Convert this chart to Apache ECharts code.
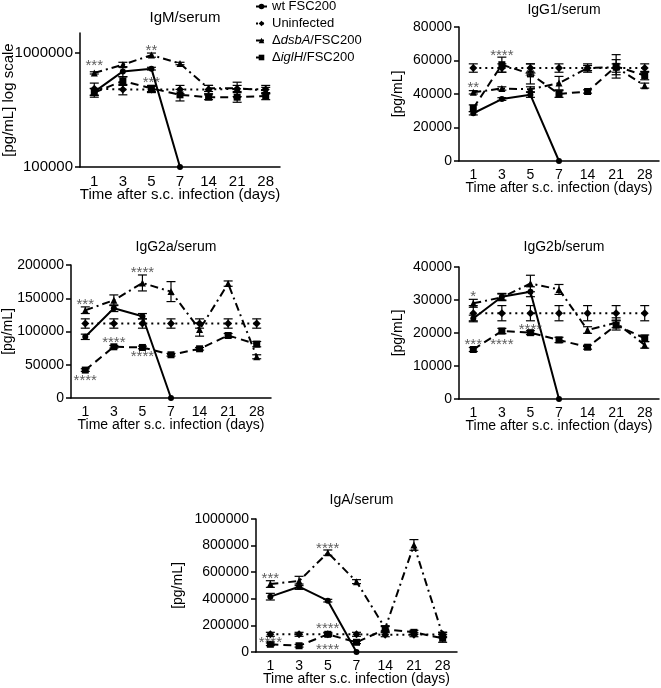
<!DOCTYPE html>
<html>
<head>
<meta charset="utf-8">
<script src="https://cdn.jsdelivr.net/npm/echarts@6/dist/echarts.min.js"></script>
<style>
  html, body { margin: 0; padding: 0; background: #fff; }
  #chart { width: 661px; height: 688px; }
</style>
</head>
<body>
<div id="chart"></div>
<script>
// categories + legend names
const days = ['1', '3', '5', '7', '14', '21', '28']
const seriesNames = ['wt FSC200', 'Uninfected', 'ΔdsbA/FSC200', 'ΔiglH/FSC200']

// IgM/serum (log scale)
const igmTicks = [100000, 1000000]
const igmWt = [457000, 690000, 730000, 100000]
const igmWtErr = [30000, 70000, 20000, 0]
const igmUninf = [485000, 480000, 480000, 480000, 480000, 485000, 480000]
const igmUninfErr = [60000, 50000, 30000, 40000, 40000, 70000, 40000]
const igmDsbA = [670000, 790000, 960000, 810000, 490000, 490000, 470000]
const igmDsbAErr = [15000, 40000, 40000, 20000, 30000, 30000, 30000]
const igmIglH = [450000, 570000, 490000, 430000, 410000, 410000, 420000]
const igmIglHErr = [40000, 50000, 30000, 50000, 20000, 40000, 30000]
const igmStars = [[0, 817000, '***'], [2, 1107000, '**'], [1.7, 579000, '***']]

// IgG1/serum
const igg1Ticks = [0, 20000, 40000, 60000, 80000]
const igg1Wt = [28500, 37000, 39500, 0]
const igg1WtErr = [1000, 800, 1500, 0]
const igg1Uninf = [55500, 55500, 55500, 55500, 55500, 55500, 55500]
const igg1UninfErr = [2500, 2500, 2500, 2500, 2500, 2500, 2500]
const igg1DsbA = [41000, 43300, 42800, 46500, 55500, 56000, 45000]
const igg1DsbAErr = [1000, 1000, 1500, 4000, 1500, 4500, 1500]
const igg1IglH = [31500, 57500, 52000, 40000, 41500, 56500, 51000]
const igg1IglHErr = [2000, 4500, 6000, 2000, 1000, 7000, 2500]
const igg1Stars = [[0, 45400, '**'], [1, 64700, '****'], [2.45, 52000, '**']]

// IgG2a/serum
const igg2aTicks = [0, 50000, 100000, 150000, 200000]
const igg2aWt = [92000, 135000, 123000, 0]
const igg2aWtErr = [4000, 5000, 4000, 0]
const igg2aUninf = [112000, 112000, 112000, 112000, 112000, 112000, 112000]
const igg2aUninfErr = [7000, 7000, 7000, 7000, 7000, 7000, 7000]
const igg2aDsbA = [132000, 147000, 173000, 160000, 103000, 172000, 62000]
const igg2aDsbAErr = [5000, 8000, 12000, 15000, 10000, 4000, 3000]
const igg2aIglH = [42000, 77000, 76000, 65000, 74000, 94000, 81000]
const igg2aIglHErr = [2000, 2000, 2000, 2000, 2000, 3000, 4000]
const igg2aStars = [[0, 145000, '***'], [2, 192500, '****'], [1, 87000, '****'], [2, 65700, '****'], [0, 29600, '****']]

// IgG2b/serum
const igg2bTicks = [0, 10000, 20000, 30000, 40000]
const igg2bWt = [24400, 31000, 32500, 0]
const igg2bWtErr = [1000, 1000, 1500, 0]
const igg2bUninf = [26000, 26000, 26000, 26000, 26000, 26000, 26000]
const igg2bUninfErr = [2300, 2300, 2300, 2300, 2300, 2300, 2300]
const igg2bDsbA = [29000, 30800, 35000, 33200, 20900, 23100, 16400]
const igg2bDsbAErr = [1200, 1000, 2500, 1500, 1000, 1500, 1000]
const igg2bIglH = [15000, 20600, 20100, 17900, 15700, 22400, 18400]
const igg2bIglHErr = [600, 800, 600, 800, 600, 1500, 1000]
const igg2bStars = [[0, 32000, '*'], [-0.07, 17400, '***'], [1.1, 17400, '****'], [1.8, 21900, '****']]

// IgA/serum
const igaTicks = [0, 200000, 400000, 600000, 800000, 1000000]
const igaWt = [416000, 491000, 386000, 0]
const igaWtErr = [25000, 20000, 10000, 0]
const igaUninf = [133000, 133000, 133000, 133000, 130000, 130000, 133000]
const igaUninfErr = [15000, 15000, 15000, 15000, 15000, 15000, 15000]
const igaDsbA = [511000, 534000, 747000, 529000, 178000, 805000, 128000]
const igaDsbAErr = [25000, 35000, 20000, 15000, 20000, 40000, 20000]
const igaIglH = [58000, 47000, 133000, 73000, 171000, 148000, 103000]
const igaIglHErr = [10000, 10000, 10000, 10000, 20000, 15000, 30000]
const igaStars = [[0, 571000, '***'], [2, 797000, '****'], [2, 195000, '****'], [0, 95000, '****'], [1.64, 40000, '****']]

const FONT = "'Liberation Sans', Arial, sans-serif"

// line styles for the four groups
const looks = [
  { symbol: 'circle', size: 6, dash: 'solid' },
  { symbol: 'diamond', size: 8, dash: [2, 4] },
  { symbol: 'triangle', size: 7, dash: [8, 4, 2, 4] },
  { symbol: 'rect', size: 7, dash: [8, 5] }
]

const panels = [
  { title: 'IgM/serum', grid: { left: 80, top: 33, width: 200, height: 134 }, titleTop: 5, yName: '[pg/mL] log scale', nameGap: 64, log: true, ticks: igmTicks, max: 1500000,
    vals: [igmWt, igmUninf, igmDsbA, igmIglH], errs: [igmWtErr, igmUninfErr, igmDsbAErr, igmIglHErr], stars: igmStars, fs: 15 },
  { title: 'IgG1/serum', grid: { left: 459, top: 27, width: 200, height: 134 }, titleTop: -2, yName: '[pg/mL]', nameGap: 54, ticks: igg1Ticks,
    vals: [igg1Wt, igg1Uninf, igg1DsbA, igg1IglH], errs: [igg1WtErr, igg1UninfErr, igg1DsbAErr, igg1IglHErr], stars: igg1Stars, fs: 14 },
  { title: 'IgG2a/serum', grid: { left: 71, top: 265, width: 200, height: 133 }, titleTop: 235, yName: '[pg/mL]', nameGap: 56, ticks: igg2aTicks,
    vals: [igg2aWt, igg2aUninf, igg2aDsbA, igg2aIglH], errs: [igg2aWtErr, igg2aUninfErr, igg2aDsbAErr, igg2aIglHErr], stars: igg2aStars, fs: 14 },
  { title: 'IgG2b/serum', grid: { left: 459, top: 267, width: 200, height: 132 }, titleTop: 235, yName: '[pg/mL]', nameGap: 54, ticks: igg2bTicks,
    vals: [igg2bWt, igg2bUninf, igg2bDsbA, igg2bIglH], errs: [igg2bWtErr, igg2bUninfErr, igg2bDsbAErr, igg2bIglHErr], stars: igg2bStars, fs: 14 },
  { title: 'IgA/serum', grid: { left: 256, top: 519, width: 201, height: 133 }, titleTop: 488, yName: '[pg/mL]', nameGap: 71, ticks: igaTicks,
    vals: [igaWt, igaUninf, igaDsbA, igaIglH], errs: [igaWtErr, igaUninfErr, igaDsbAErr, igaIglHErr], stars: igaStars, fs: 14 }
]

function renderErr (params, api) {
  const x = api.value(0)
  const top = api.coord([x, api.value(2)])
  const bot = api.coord([x, api.value(1)])
  const w = 4.5
  const style = { stroke: '#000', lineWidth: 1.2 }
  return {
    type: 'group',
    children: [
      { type: 'line', shape: { x1: top[0], y1: top[1], x2: bot[0], y2: bot[1] }, style: style },
      { type: 'line', shape: { x1: top[0] - w, y1: top[1], x2: top[0] + w, y2: top[1] }, style: style },
      { type: 'line', shape: { x1: bot[0] - w, y1: bot[1], x2: bot[0] + w, y2: bot[1] }, style: style }
    ]
  }
}

const chart = echarts.init(document.getElementById('chart'), null, { renderer: 'canvas' })

const grids = []
const xAxes = []
const yAxes = []
const titles = []
const series = []

panels.forEach((p, gi) => {
  grids.push(Object.assign({ outerBoundsMode: 'none', containLabel: false }, p.grid))
  titles.push({
    text: p.title,
    left: p.grid.left + p.grid.width / 2,
    top: p.titleTop,
    textAlign: 'center',
    textStyle: { fontFamily: FONT, fontSize: p.fs, fontWeight: 'normal', color: '#000' }
  })
  xAxes.push({
    type: 'category',
    gridIndex: gi,
    data: days,
    boundaryGap: true,
    name: 'Time after s.c. infection (days)',
    nameLocation: 'middle',
    nameGap: 20,
    nameMoveOverlap: false,
    nameTextStyle: { fontFamily: FONT, fontSize: p.fs, color: '#000' },
    axisLine: { lineStyle: { color: '#000', width: 1.5 } },
    axisTick: { alignWithLabel: true, length: 5, lineStyle: { color: '#000', width: 1.5 } },
    axisLabel: { fontFamily: FONT, fontSize: p.fs, color: '#000', margin: 7, interval: 0 },
    splitLine: { show: false }
  })
  const y = {
    type: p.log ? 'log' : 'value',
    gridIndex: gi,
    min: p.ticks[0],
    max: p.max || p.ticks[p.ticks.length - 1],
    name: p.yName,
    nameLocation: 'middle',
    nameGap: p.nameGap,
    nameMoveOverlap: false,
    nameTextStyle: { fontFamily: FONT, fontSize: p.fs, color: '#000' },
    axisLine: { show: true, lineStyle: { color: '#000', width: 1.5 } },
    axisTick: { show: true, length: 5, lineStyle: { color: '#000', width: 1.5 } },
    axisLabel: { fontFamily: FONT, fontSize: p.fs, color: '#000', margin: 7, formatter: (v) => String(v) },
    splitLine: { show: false }
  }
  if (p.log) {
    y.logBase = 10
    y.axisTick.customValues = p.ticks
    y.axisLabel.customValues = p.ticks
  } else {
    y.interval = p.ticks[1] - p.ticks[0]
  }
  yAxes.push(y)

  p.vals.forEach((v, si) => {
    const look = looks[si]
    series.push({
      name: seriesNames[si],
      type: 'line',
      xAxisIndex: gi,
      yAxisIndex: gi,
      data: v,
      symbol: look.symbol,
      symbolSize: look.size,
      showSymbol: true,
      animation: false,
      z: 3,
      lineStyle: { color: '#000', width: 2, type: look.dash },
      itemStyle: { color: '#000', borderWidth: 0 }
    })
    const e = p.errs[si]
    const errData = []
    v.forEach((val, i) => {
      if (e[i] > 0) errData.push([i, val - e[i], val + e[i]])
    })
    series.push({
      type: 'custom',
      xAxisIndex: gi,
      yAxisIndex: gi,
      data: errData,
      encode: { x: 0, y: [1, 2] },
      renderItem: renderErr,
      animation: false,
      silent: true,
      z: 2
    })
  })

  series.push({
    type: 'scatter',
    xAxisIndex: gi,
    yAxisIndex: gi,
    data: p.stars,
    symbolSize: 0,
    animation: false,
    silent: true,
    z: 4,
    label: {
      show: true,
      position: 'inside',
      offset: [0, 3],
      formatter: (d) => d.value[2],
      fontFamily: FONT,
      fontSize: 15,
      color: '#333'
    }
  })
})

const option = {
  backgroundColor: '#fff',
  animation: false,
  title: titles,
  legend: {
    data: seriesNames,
    orient: 'vertical',
    left: 255,
    top: 0,
    padding: 0,
    itemWidth: 11,
    itemHeight: 7,
    itemGap: 4,
    formatter: (name) => name.replace(/Δ(\w+)\//, 'Δ{i|$1}/'),
    textStyle: {
      fontFamily: FONT,
      fontSize: 13,
      color: '#000',
      lineHeight: 13,
      rich: { i: { fontStyle: 'italic', fontFamily: FONT, fontSize: 13, color: '#000' } }
    }
  },
  grid: grids,
  xAxis: xAxes,
  yAxis: yAxes,
  series: series
}

chart.setOption(option)
</script>
</body>
</html>
